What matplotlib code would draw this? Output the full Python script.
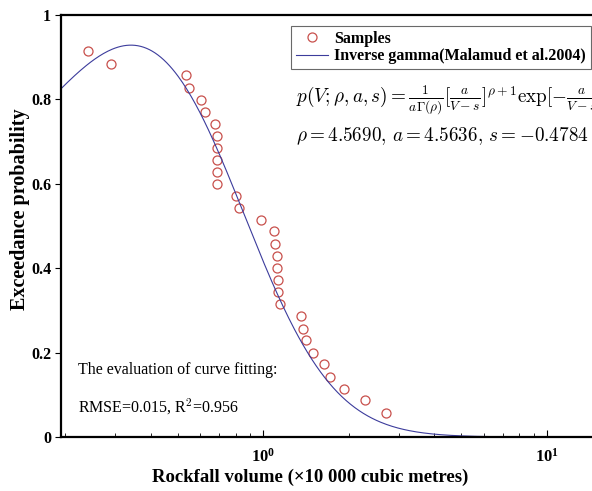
import math
import matplotlib
matplotlib.use("Agg")
import matplotlib.pyplot as plt
import numpy as np

# sample points
vol = [0.240, 0.289, 0.532, 0.545, 0.604, 0.624, 0.674, 0.685, 0.685, 0.685,
       0.685, 0.685, 0.801, 0.823, 0.984, 1.093, 1.100, 1.115, 1.118, 1.124,
       1.130, 1.145, 1.353, 1.383, 1.420, 1.503, 1.637, 1.719, 1.927, 2.285,
       2.703]
prob = [0.914, 0.885, 0.857, 0.828, 0.799, 0.771, 0.742, 0.713, 0.686, 0.657,
        0.628, 0.600, 0.571, 0.542, 0.514, 0.488, 0.457, 0.428, 0.400, 0.372,
        0.343, 0.314, 0.286, 0.257, 0.229, 0.200, 0.172, 0.143, 0.114, 0.087,
        0.058]

# fitted parameters printed on the chart
rho = 4.5690
a = 4.5636
s = -0.4784

yticks = [0, 0.2, 0.4, 0.6, 0.8, 1]
yticklabels = ["0", "0.2", "0.4", "0.6", "0.8", "1"]

plt.rcParams["font.family"] = "Liberation Serif"
plt.rcParams["mathtext.fontset"] = "cm"

fig = plt.figure(figsize=(5.92, 4.91), dpi=100)
ax = fig.add_axes([61 / 592, 54 / 491, 571 / 592, 422 / 491])

V = np.logspace(np.log10(0.19), np.log10(20), 400)
p = 1 / (a * math.gamma(rho)) * (a / (V - s)) ** (rho + 1) * np.exp(-a / (V - s))

ax.plot(vol, prob, "o", mfc="none", mec="#c8504c", ms=6.5, mew=0.9, label="Samples")
ax.plot(V, p, color="#3c3c9c", lw=0.8, label="Inverse gamma(Malamud et al.2004)")

ax.set_xscale("log")
ax.set_xlim(0.1932, 20)
ax.set_ylim(0, 1)
ax.set_yticks(yticks)
ax.set_yticklabels(yticklabels)

for sp in ax.spines.values():
    sp.set_linewidth(1.6)
ax.tick_params(axis="x", which="both", direction="in", top=False)
ax.tick_params(axis="x", which="major", length=5, labelsize=12, pad=8)
ax.tick_params(axis="x", which="minor", length=3)
ax.tick_params(axis="y", direction="out", right=False, length=4, labelsize=11.5, pad=3)
for lab in ax.get_xticklabels() + ax.get_yticklabels():
    lab.set_fontweight("bold")

ax.set_xlabel("Rockfall volume (×10 000 cubic metres)", fontsize=13.5, fontweight="bold")
ax.xaxis.set_label_coords((310 - 61) / 571, -0.075)
ax.set_ylabel("Exceedance probability", fontsize=14.5, fontweight="bold")
ax.yaxis.set_label_coords(-(61 - 30) / 571, (437 - 209) / 422)

leg = ax.legend(loc="upper left", bbox_to_anchor=((291 - 61) / 571, 1 - 11 / 422),
                prop={"weight": "bold", "size": 11.5}, fancybox=False,
                edgecolor="#444444", borderaxespad=0, handlelength=2.0,
                handletextpad=0.4, labelspacing=0.1, borderpad=0.3)
leg.get_frame().set_linewidth(0.8)

ax.text((296 - 61) / 571, (437 - 100) / 422,
        r"$p(V;\rho,a,s)=\frac{1}{a\Gamma(\rho)}[\frac{a}{V-s}]^{\rho+1}\mathrm{exp}[-\frac{a}{V-s}]$",
        transform=ax.transAxes, fontsize=13.8, va="center")
ax.text((296 - 61) / 571, (437 - 136) / 422,
        r"$\rho=4.5690,\,a=4.5636,\,s=-0.4784$",
        transform=ax.transAxes, fontsize=13.8, va="center")

ax.text((78 - 61) / 571, (437 - 370) / 422, "The evaluation of curve fitting:",
        transform=ax.transAxes, fontsize=11.5, va="center")
ax.text((78 - 61) / 571, (437 - 407) / 422, "RMSE=0.015, R$^2$=0.956",
        transform=ax.transAxes, fontsize=11.5, va="center")

fig.savefig("out.png", dpi=100)
